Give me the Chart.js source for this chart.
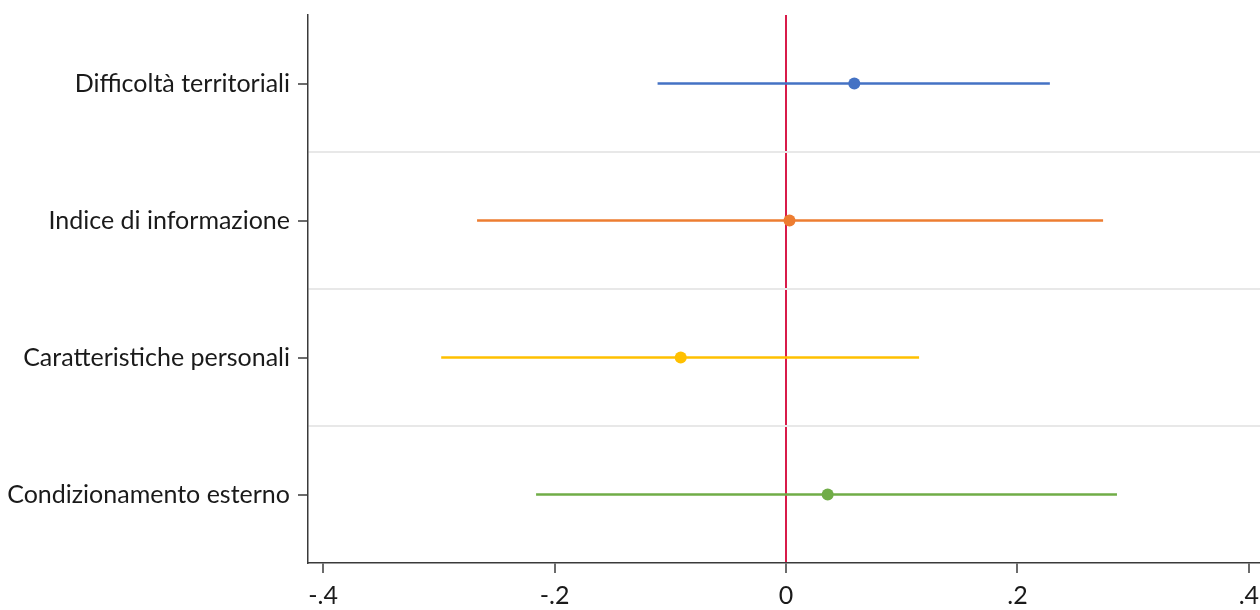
<!DOCTYPE html>
<html><head><meta charset="utf-8">
<script src="https://cdn.jsdelivr.net/npm/chart.js@4"></script>
<style>html,body{margin:0;padding:0;background:#fff;overflow:hidden}#wrap{width:1266px;height:610px}</style>
</head><body><div id="wrap"><canvas id="c"></canvas></div>
<script>
const categories = ["Difficoltà territoriali","Indice di informazione","Caratteristiche personali","Condizionamento esterno"];
const estimates = [0.059, 0.003, -0.091, 0.036];
const lowerCI = [-0.111, -0.267, -0.298, -0.216];
const upperCI = [0.228, 0.274, 0.115, 0.286];
const colors = ["#4472C4","#ED7D31","#FFC000","#70AD47"];
const xTickValues = [-0.4,-0.2,0,0.2,0.4];
const xTickLabels = ["-.4","-.2","0",".2",".4"];

const datasets = [];
categories.forEach((c,i)=>{
  datasets.push({
    label: c+" CI", data:[{x:lowerCI[i],y:i},{x:upperCI[i],y:i}],
    showLine:true, borderColor:colors[i], borderWidth:2.5, pointRadius:0, fill:false
  });
});
categories.forEach((c,i)=>{
  datasets.push({
    label: c, data:[{x:estimates[i],y:i}],
    pointRadius:6, pointBackgroundColor:colors[i], pointBorderColor:colors[i], pointBorderWidth:0
  });
});

const yTicks = [];
for (let v=0; v<=categories.length-1; v+=0.5) yTicks.push(v);
const textFont = {family:"Lato", size:25};
const axisColor = "#3a3a3a";

new Chart(document.getElementById('c'), {
  type:'scatter',
  data:{datasets},
  options:{
    responsive:true, maintainAspectRatio:false, animation:false,
    layout:{padding:{top:15,right:0,left:0,bottom:0}},
    plugins:{legend:{display:false}, tooltip:{enabled:false}},
    scales:{
      x:{
        type:'linear', min:-0.4131, max:0.4096,
        afterBuildTicks:(s)=>{ s.ticks = xTickValues.map(v=>({value:v})); },
        afterFit:(s)=>{ s.height = 47; s.paddingLeft = 0; s.paddingRight = 0; },
        ticks:{ autoSkip:false, maxRotation:0, padding:8, color:"#1a1a1a", font:textFont,
          callback:(v)=>{ const k = xTickValues.findIndex(t=>Math.abs(t-v)<1e-9); return k>=0?xTickLabels[k]:''; } },
        grid:{
          color:(ctx)=> (ctx.tick && Math.abs(ctx.tick.value)<1e-9) ? "#D81B4A" : "rgba(0,0,0,0)",
          lineWidth:2, tickColor:axisColor, tickLength:10, tickWidth:1.5
        },
        border:{display:true, color:axisColor, width:1.5}
      },
      y:{
        type:'linear', reverse:true, min:-0.5, max:categories.length-0.5,
        afterBuildTicks:(s)=>{ s.ticks = yTicks.map(v=>({value:v})); },
        afterFit:(s)=>{ s.width = 308; s.paddingTop = 0; s.paddingBottom = 0; },
        ticks:{ autoSkip:false, padding:8, color:"#1a1a1a", font:textFont,
          callback:(v)=> Number.isInteger(v) ? categories[v] : '' },
        grid:{
          color:(ctx)=> (ctx.tick && !Number.isInteger(ctx.tick.value)) ? "#e8e8e8" : "rgba(0,0,0,0)",
          lineWidth:2,
          tickColor:(ctx)=> (ctx.tick && Number.isInteger(ctx.tick.value)) ? axisColor : "rgba(0,0,0,0)",
          tickLength:10, tickWidth:1.5
        },
        border:{display:true, color:axisColor, width:1.5}
      }
    }
  }
});
</script>
</body></html>
